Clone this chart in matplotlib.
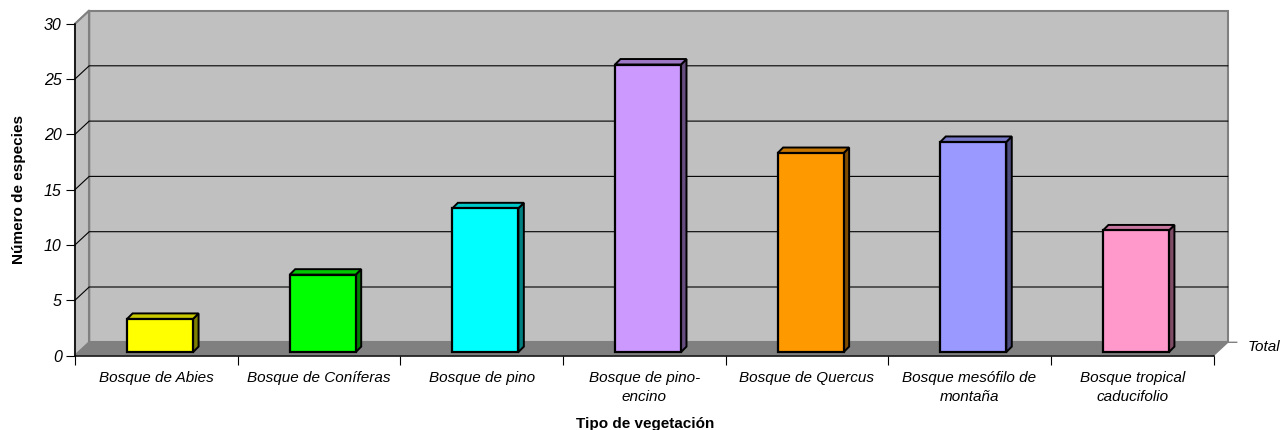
import numpy as np
import matplotlib
matplotlib.use('Agg')
import matplotlib.pyplot as plt
from matplotlib.patches import Polygon
from matplotlib.colors import to_rgb

plt.rcParams['font.family'] = ['Liberation Sans', 'DejaVu Sans']

categories = ['Bosque de Abies', 'Bosque de Coníferas', 'Bosque de pino',
              'Bosque de pino-\nencino', 'Bosque de Quercus',
              'Bosque mesófilo de\nmontaña', 'Bosque tropical\ncaducifolio']
species = [3, 7, 13, 26, 18, 19, 11]
colors = ['#FFFF00', '#00FF00', '#00FFFF', '#CC99FF', '#FF9900', '#9999FF', '#FF99CC']
y_ticks = [0, 5, 10, 15, 20, 25, 30]

W, H = 1282, 430
fig = plt.figure(figsize=(W / 100, H / 100), dpi=100)
# axes cover the front plane of the 3D box
x0, x1, y0, y1 = 75, 1213.5, 355.5, 23.7
ax = fig.add_axes([x0 / W, 1 - y0 / H, (x1 - x0) / W, (y0 - y1) / H])
ax.set_xlim(0, 7)
ax.set_ylim(0, 30)
ax.patch.set_visible(False)

# pixel sizes expressed in data units
px = 7 / (x1 - x0)
py = 30 / (y0 - y1)
dx, dy = 14.2 * px, 13.2 * py


def face(pts, fc, ec='none', lw=0, z=1):
    ax.add_patch(Polygon(pts, closed=True, fc=fc, ec=ec, lw=lw, zorder=z,
                         clip_on=False, joinstyle='miter'))


def shade(c, k):
    return tuple(v * k for v in to_rgb(c))


# walls and floor
face([(dx, dy), (7 + dx, dy), (7 + dx, 30 + dy), (dx, 30 + dy)], '#C0C0C0', '#808080', 1.5)
face([(0, 0), (dx, dy), (dx, 30 + dy), (0, 30)], '#C0C0C0', '#808080', 1.5)
face([(0, 0), (7, 0), (7 + dx, dy), (dx, dy)], '#808080')
ax.plot([dx, dx], [dy, 30 + dy], color='#808080', lw=1.5, zorder=2, clip_on=False)

# gridlines on the back wall plus the diagonals on the side wall
for v in y_ticks[1:-1]:
    ax.plot([0, dx, 7 + dx], [v, v + dy, v + dy], color='black', lw=0.8, zorder=2, clip_on=False)
ax.plot([0, dx], [30, 30 + dy], color='#808080', lw=1, zorder=2, clip_on=False)

# bars
bar_w = 66 * px
bar_dx, bar_dy = 5.5 * px, 5.5 * py
base = 3.4 * py
for i, (val, col) in enumerate(zip(species, colors)):
    l = i + 0.523 - bar_w / 2
    r = l + bar_w
    top = base + val
    face([(r, base), (r + bar_dx, base + bar_dy), (r + bar_dx, top + bar_dy), (r, top)],
         shade(col, 0.5), 'black', 1.4, 3)
    face([(l, top), (r, top), (r + bar_dx, top + bar_dy), (l + bar_dx, top + bar_dy)],
         shade(col, 0.78), 'black', 1.4, 3)
    face([(l, base), (r, base), (r, top), (l, top)], col, 'black', 1.6, 4)

# series marker on the depth axis
ax.plot([7, 7 + dx, 7 + dx + 9 * px], [0, dy, dy], color='#808080', lw=1, zorder=2, clip_on=False)
ax.text(7 + dx + 20 * px, dy - 4.5 * py, 'Total', style='italic', fontsize=11, ha='left', va='center')

# axes
for s in ['top', 'right']:
    ax.spines[s].set_visible(False)
for s in ['left', 'bottom']:
    ax.spines[s].set_linewidth(1.1)
    ax.spines[s].set_zorder(5)

ax.set_yticks(y_ticks)
ax.set_yticklabels([str(v) for v in y_ticks], style='italic', fontsize=11.5)
ax.tick_params(axis='y', length=6.5, width=0.8, pad=3)

ax.set_xticks(np.arange(7) + 0.5)
ax.set_xticklabels(categories, style='italic', fontsize=11, linespacing=1.5, va='top')
ax.set_xticks(np.arange(8), minor=True)
ax.tick_params(axis='x', which='major', length=0, pad=11)
ax.tick_params(axis='x', which='minor', length=6.5, width=0.8)

fig.text(645 / W, 1 - 424 / H, 'Tipo de vegetación', fontweight='bold', fontsize=11,
         ha='center', va='center')
fig.text(19 / W, 1 - 189 / H, 'Número de especies', fontweight='bold', fontsize=11,
         rotation=90, ha='center', va='center')

fig.savefig('out.png', dpi=100)
